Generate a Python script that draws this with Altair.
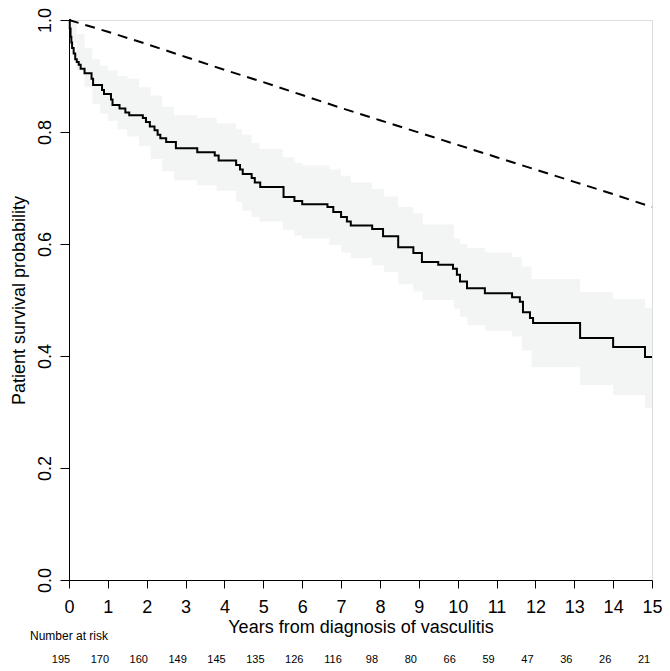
import altair as alt
import pandas as pd

# Kaplan-Meier estimate (change points, step-after)
km_time = [0, 0.02, 0.04, 0.06, 0.08, 0.12, 0.16, 0.2, 0.25, 0.3, 0.4, 0.58, 0.62, 0.85, 0.9,
           1.08, 1.12, 1.3, 1.45, 1.55, 1.9, 1.98, 2.08, 2.2, 2.28, 2.35, 2.5, 2.75, 3.3, 3.75,
           3.85, 4.3, 4.4, 4.47, 4.7, 4.78, 4.92, 5.52, 5.8, 6.0, 6.65, 6.8, 7.0, 7.15, 7.25,
           7.8, 8.08, 8.47, 8.86, 9.08, 9.5, 9.88, 9.98, 10.06, 10.24, 10.7, 11.4, 11.6, 11.68,
           11.86, 11.94, 13.15, 14.0, 14.82, 15]
km_surv = [1.0, 0.985, 0.97, 0.96, 0.95, 0.94, 0.93, 0.925, 0.92, 0.913, 0.905, 0.895, 0.884, 0.875, 0.868,
           0.858, 0.848, 0.842, 0.835, 0.83, 0.825, 0.818, 0.81, 0.803, 0.795, 0.789, 0.782, 0.771, 0.764, 0.758,
           0.749, 0.741, 0.733, 0.725, 0.718, 0.71, 0.702, 0.684, 0.677, 0.671, 0.666, 0.657, 0.648, 0.64, 0.633,
           0.627, 0.614, 0.594, 0.584, 0.568, 0.563, 0.556, 0.545, 0.533, 0.521, 0.512, 0.505, 0.497, 0.478,
           0.468, 0.459, 0.432, 0.416, 0.398, 0.398]

# Confidence band
ci_time = [0, 0.05, 0.2, 0.4, 0.6, 0.8, 1.0, 1.25, 1.5, 1.8, 2.1, 2.4, 2.7, 3.3, 3.8, 4.3, 4.45, 4.7,
           4.9, 5.5, 5.8, 6.0, 6.7, 7.0, 7.25, 7.8, 8.1, 8.47, 8.86, 9.1, 9.9, 10.06, 10.25, 10.7, 11.4,
           11.65, 11.9, 13.15, 14.0, 14.82, 15]
ci_low = [1.0, 0.96, 0.91, 0.88, 0.85, 0.833, 0.82, 0.805, 0.792, 0.775, 0.752, 0.73, 0.714, 0.705, 0.695,
          0.675, 0.66, 0.648, 0.64, 0.625, 0.615, 0.61, 0.598, 0.585, 0.575, 0.562, 0.55, 0.528, 0.515, 0.5,
          0.485, 0.47, 0.455, 0.445, 0.435, 0.41, 0.38, 0.348, 0.33, 0.307, 0.307]
ci_high = [1.0, 0.995, 0.975, 0.95, 0.93, 0.918, 0.91, 0.9, 0.895, 0.88, 0.865, 0.845, 0.83, 0.825, 0.815,
           0.805, 0.795, 0.78, 0.77, 0.755, 0.745, 0.74, 0.733, 0.722, 0.71, 0.698, 0.685, 0.666, 0.655, 0.635,
           0.61, 0.6, 0.593, 0.585, 0.577, 0.56, 0.537, 0.514, 0.502, 0.486, 0.486]

# Expected survival (dashed)
exp_time = list(range(16))
exp_surv = [1.0, 0.979, 0.957, 0.934, 0.911, 0.889, 0.866, 0.843, 0.821, 0.799, 0.777, 0.755, 0.733,
            0.711, 0.689, 0.666]

# Number at risk
risk_time = list(range(16))
risk_n = [195, 170, 160, 149, 145, 135, 126, 116, 98, 80, 66, 59, 47, 36, 26, 21]
x_ticks = list(range(16))
y_ticks = [0.0, 0.2, 0.4, 0.6, 0.8, 1.0]

km_df = pd.DataFrame({"t": km_time, "s": km_surv})
ci_df = pd.DataFrame({"t": ci_time, "lo": ci_low, "hi": ci_high})
exp_df = pd.DataFrame({"t": exp_time, "s": exp_surv})
risk_df = pd.DataFrame({"t": risk_time, "n": risk_n})

FONT = "Liberation Sans"
FS = 18
W, H = 583, 560

xscale = alt.Scale(domain=[0, 15], nice=False, zero=False)
yscale = alt.Scale(domain=[0, 1], nice=False)

xaxis = alt.Axis(values=x_ticks, format="d", grid=False, labelFontSize=FS, labelFont=FONT,
                 labelColor="black", tickSize=8, tickColor="black", domainColor="black",
                 labelPadding=10, labelFlush=False, labelOverlap=False,
                 title="Years from diagnosis of vasculitis", titleFontSize=FS, titleFont=FONT,
                 titleFontWeight="normal", titleColor="black", titleX=W / 2, titleY=52,
                 titleAlign="center", titleBaseline="alphabetic")
yaxis = alt.Axis(values=y_ticks, format=".1f", grid=False, labelFontSize=FS,
                 labelFont=FONT, labelColor="black", labelAngle=270, labelAlign="center",
                 labelBaseline="alphabetic", labelPadding=10, tickSize=9, tickColor="black",
                 domainColor="black", labelFlush=False, labelOverlap=False,
                 title="Patient survival probability", titleFontSize=FS, titleFont=FONT,
                 titleFontWeight="normal", titleColor="black", titleAngle=270, titleX=-45,
                 titleY=H / 2, titleAlign="center", titleBaseline="alphabetic")

X = alt.X("t:Q", scale=xscale, axis=xaxis)

band = alt.Chart(ci_df).mark_area(interpolate="step-after", color="#f3f4f4", opacity=1).encode(
    x=X,
    y=alt.Y("lo:Q", scale=yscale, axis=yaxis),
    y2="hi:Q",
)

expected = alt.Chart(exp_df).mark_line(color="black", strokeWidth=2, strokeDash=[10, 7]).encode(
    x=X, y=alt.Y("s:Q", scale=yscale, axis=yaxis)
)

km = alt.Chart(km_df).mark_line(color="black", strokeWidth=2, interpolate="step-after").encode(
    x=X, y=alt.Y("s:Q", scale=yscale, axis=yaxis)
)

risk = alt.Chart(risk_df).mark_text(font=FONT, fontSize=11, color="black", dx=-8,
                                    baseline="alphabetic").encode(
    x=X, y=alt.value(643), text="n:Q"
)

risk_label = alt.Chart(pd.DataFrame({"lab": ["Number at risk"]})).mark_text(
    font=FONT, fontSize=12, color="black", align="left", baseline="alphabetic"
).encode(x=alt.value(-39), y=alt.value(620), text="lab:N")

chart = alt.layer(band, expected, km, risk, risk_label).properties(
    width=W, height=H, autosize="none",
    padding={"left": 61, "top": 12, "right": 10, "bottom": 90},
).configure_view(stroke=None).configure(background="white")

chart.save("out.html", embed_options={"renderer": "svg", "actions": False})
